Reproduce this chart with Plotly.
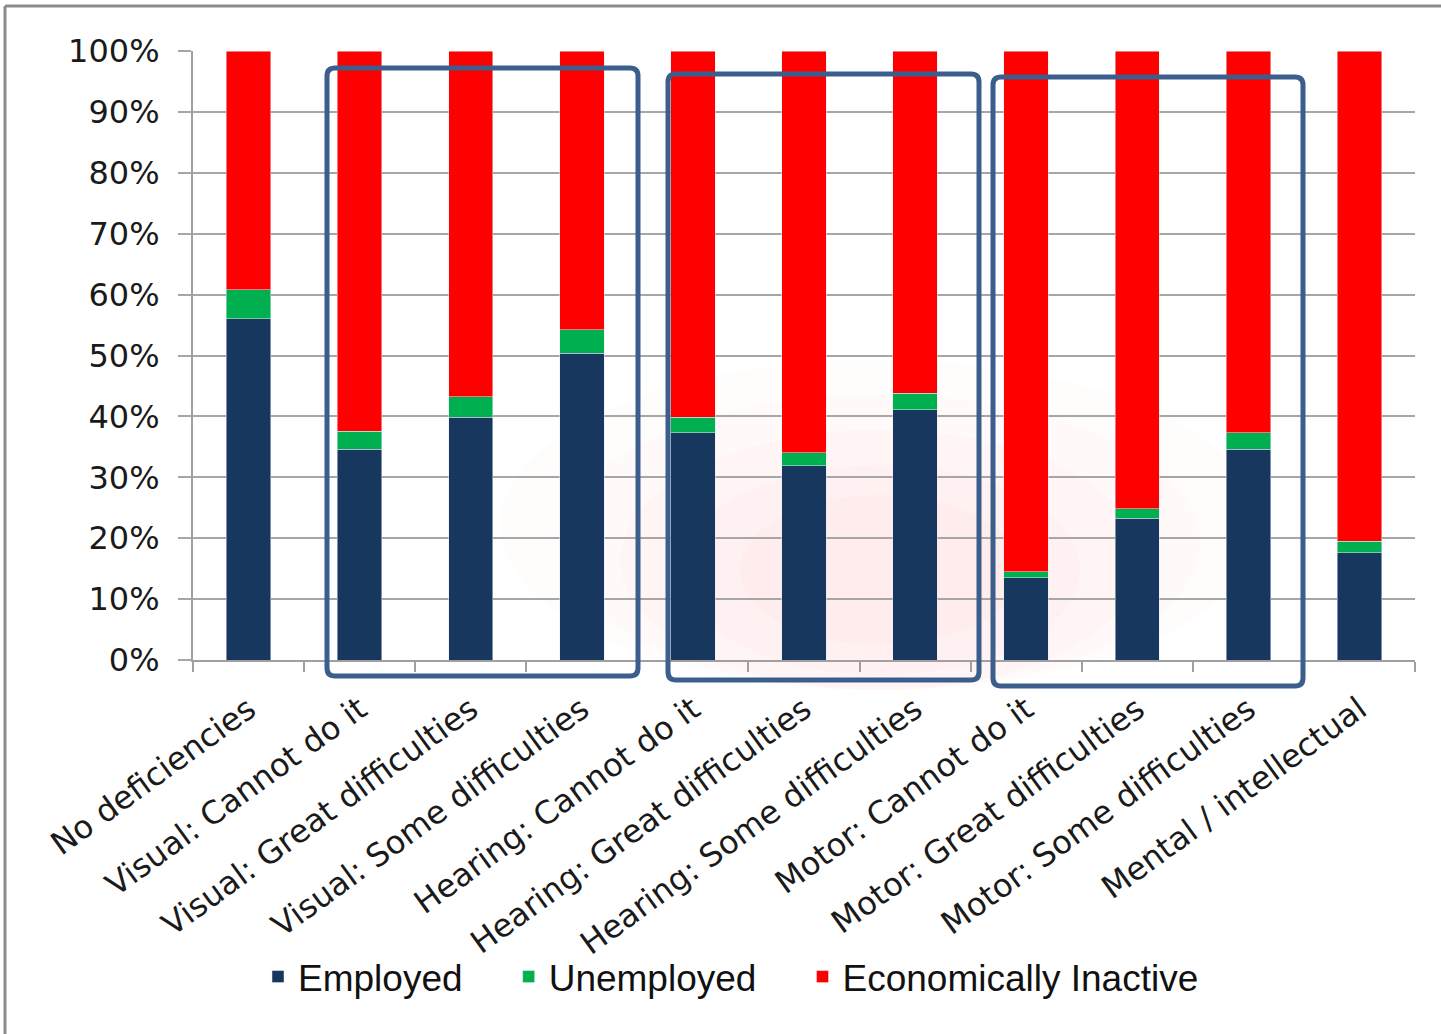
import plotly.graph_objects as go

categories = ["No deficiencies", "Visual: Cannot do it", "Visual: Great difficulties",
              "Visual: Some difficulties", "Hearing: Cannot do it", "Hearing: Great difficulties",
              "Hearing: Some difficulties", "Motor: Cannot do it", "Motor: Great difficulties",
              "Motor: Some difficulties", "Mental / intellectual"]
employed = [56.0, 34.6, 39.9, 50.4, 37.3, 31.9, 41.1, 13.5, 23.3, 34.6, 17.6]
unemployed = [4.8, 3.0, 3.3, 3.8, 2.6, 2.1, 2.7, 1.0, 1.5, 2.7, 1.9]
inactive = [round(100 - e - u, 1) for e, u in zip(employed, unemployed)]
series_names = ["Employed", "Unemployed", "Economically Inactive"]
y_ticks = [0, 10, 20, 30, 40, 50, 60, 70, 80, 90, 100]

W, H = 1441, 1034
L, R, T, B = 193, 1415, 51, 660


def px(x):
    return (x - L) / (R - L)


def py(y):
    return (B - y) / (B - T)


def rounded_rect(x0, y0, x1, y1, r=8):
    pts = [
        f"M {px(x0 + r)},{py(y0)}",
        f"L {px(x1 - r)},{py(y0)}",
        f"Q {px(x1)},{py(y0)} {px(x1)},{py(y0 + r)}",
        f"L {px(x1)},{py(y1 - r)}",
        f"Q {px(x1)},{py(y1)} {px(x1 - r)},{py(y1)}",
        f"L {px(x0 + r)},{py(y1)}",
        f"Q {px(x0)},{py(y1)} {px(x0)},{py(y1 - r)}",
        f"L {px(x0)},{py(y0 + r)}",
        f"Q {px(x0)},{py(y0)} {px(x0 + r)},{py(y0)}",
        "Z",
    ]
    return " ".join(pts)


pad = "\u00a0" * 4  # spacing between legend entries
fig = go.Figure()
fig.add_trace(go.Bar(name=series_names[0] + pad, x=categories, y=employed, marker_color="#17375E"))
fig.add_trace(go.Bar(name=series_names[1] + pad, x=categories, y=unemployed, marker_color="#00B050"))
fig.add_trace(go.Bar(name=series_names[2], x=categories, y=inactive, marker_color="#FF0000"))

shapes = []
# faint pink glow behind hearing/motor bars
for (rx, ry, op) in [(380, 210, 0.014), (320, 175, 0.016), (260, 140, 0.018), (200, 105, 0.02), (140, 75, 0.02)]:
    cx, cy = 880, 570
    shapes.append(dict(type="circle", xref="paper", yref="paper", layer="below",
                       x0=px(cx - rx), x1=px(cx + rx), y0=py(min(cy + ry, 690)), y1=py(cy - ry),
                       fillcolor="rgba(255,60,60,%s)" % op, line_width=0))
# group boxes
for (x0, y0, x1, y1) in [(327, 68, 638, 676), (668, 74, 979, 680), (993, 77, 1303, 686)]:
    shapes.append(dict(type="path", xref="paper", yref="paper", path=rounded_rect(x0, y0, x1, y1),
                       line=dict(color="#3B5E8C", width=5)))
# chart frame
shapes.append(dict(type="line", xref="paper", yref="paper", x0=px(5), x1=px(1441), y0=py(6), y1=py(6),
                   line=dict(color="#8C8C8C", width=3)))
shapes.append(dict(type="line", xref="paper", yref="paper", x0=px(5), x1=px(5), y0=py(6), y1=py(1034),
                   line=dict(color="#8C8C8C", width=3)))

fig.update_layout(
    barmode="stack",
    bargap=0.6,
    width=W, height=H,
    margin=dict(l=L, r=W - R, t=T, b=H - B),
    paper_bgcolor="white", plot_bgcolor="rgba(0,0,0,0)",
    font=dict(family="DejaVu Sans", color="#1a1a1a"),
    shapes=shapes,
    legend=dict(orientation="h", x=px(258), xanchor="left", y=py(977), yanchor="middle",
                font=dict(family="Liberation Sans", size=37, color="#111"),
                bgcolor="rgba(0,0,0,0)", itemwidth=30, traceorder="normal"),
    xaxis=dict(tickangle=-36, tickfont=dict(size=32), showline=True, linecolor="#A0A0A0", linewidth=2,
               ticks="outside", tickson="boundaries", ticklen=10, tickcolor="#A0A0A0", tickwidth=2,
               ticklabelstandoff=16),
    yaxis=dict(range=[0, 100], tickvals=y_ticks, ticktext=[f"{v}%" for v in y_ticks],
               tickfont=dict(size=32), showgrid=True, gridcolor="#A6A6A6", gridwidth=2,
               showline=True, linecolor="#A0A0A0", linewidth=2, ticks="outside", ticklen=13,
               tickcolor="#A6A6A6", tickwidth=2, zeroline=False, ticklabelstandoff=12),
)

fig.write_html("out.html", config={"displayModeBar": False},
               post_script="document.body.style.margin='0';document.body.style.overflow='hidden';")
